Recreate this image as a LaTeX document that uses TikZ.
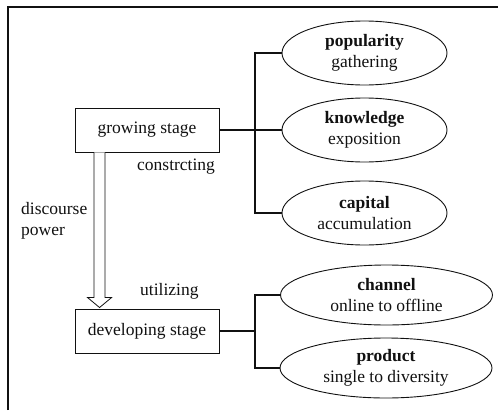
\documentclass[tikz,border=0pt]{standalone}
\usepackage{fontspec}
\setmainfont{Liberation Serif}
\usepackage{tikz}
\usetikzlibrary{positioning,calc,shapes.geometric}
\definecolor{ink}{HTML}{111111}
\tikzset{
  stagebox/.style={rectangle,draw=ink,line width=0.9pt,text=ink,align=center,
    font=\fontsize{17.5}{20.5}\selectfont,minimum width=144pt,minimum height=44pt,inner sep=2pt},
  aspectell/.style={ellipse,draw=ink,line width=0.9pt,text=ink,align=center,
    font=\fontsize{17.5}{20.5}\selectfont,minimum width=165pt,minimum height=64pt,inner sep=0pt},
  wideell/.style={aspectell,minimum width=212pt,minimum height=60pt},
  linkline/.style={line width=2pt,color=ink},
  hollowarr/.style={line width=0.8pt,draw=ink,fill=white,line join=miter},
  framelines/.style={line width=1.4pt,color=ink},
  steplabel/.style={font=\fontsize{17.5}{20.5}\selectfont,text=ink,inner sep=0pt,align=left},
}
\begin{document}
\begin{tikzpicture}[x=1pt,y=-1pt]
  \useasboundingbox (0,0) rectangle (498,410);
  \draw[framelines] (8,410) -- (8,7) -- (498,7);

  \node[stagebox] (grow) at (147,130) {growing stage};
  \node[stagebox] (dev) at (147,331) {developing stage};

  \node[aspectell] (pop) at (364.5,53) {\textbf{popularity}\\gathering};
  \node[aspectell] (know) at (364.5,130) {\textbf{knowledge}\\exposition};
  \node[aspectell] (cap) at (364.5,213) {\textbf{capital}\\accumulation};
  \node[wideell] (chan) at (386.5,295) {\textbf{channel}\\online to offline};
  \node[wideell] (prod) at (386,368) {\textbf{product}\\single to diversity};

  \node[steplabel, anchor=west] (cons) at (137,167) {constrcting};
  \node[steplabel, anchor=west] (util) at (140,291) {utilizing};
  \node[steplabel, anchor=west] (disc) at (21,221) {discourse\\power};

  \coordinate (gtrunk) at (255,0);
  \coordinate (dtrunk) at (255,0);
  \draw[linkline] (grow.east) -- (know.west);
  \draw[linkline] (pop.west) -- (pop.west -| gtrunk) -- (cap.west -| gtrunk) -- (cap.west);
  \draw[linkline] (dev.east) -- (dev.east -| dtrunk);
  \draw[linkline] (chan.west) -- (chan.west -| dtrunk) -- (prod.west -| dtrunk) -- (prod.west);

  \path (grow.south west) ++(25,0) coordinate (ftop);
  \path (dev.north west) ++(25,-1) coordinate (fbot);
  \draw[hollowarr] ($(ftop)+(-5.5,0)$) -- ($(fbot)+(-5.5,-10)$) -- ($(fbot)+(-12,-10)$)
    -- (fbot) -- ($(fbot)+(12,-10)$) -- ($(fbot)+(5.5,-10)$) -- ($(ftop)+(5.5,0)$);
\end{tikzpicture}
\end{document}
